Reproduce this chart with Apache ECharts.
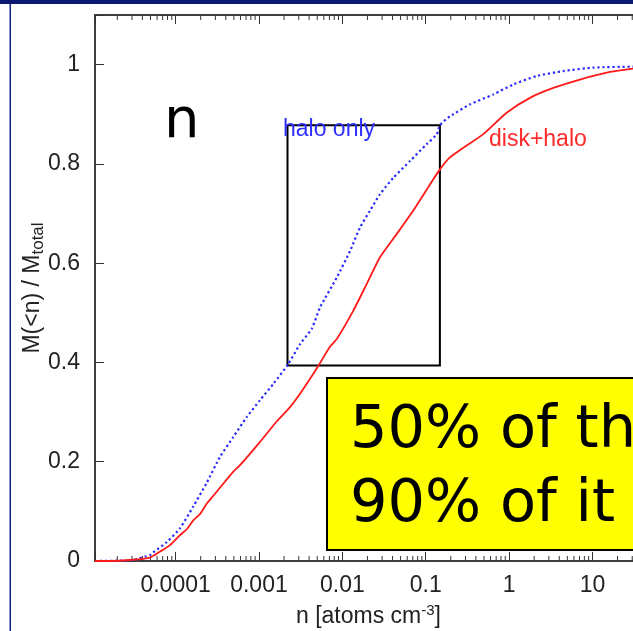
<!DOCTYPE html>
<html>
<head>
<meta charset="utf-8">
<script src="https://cdn.jsdelivr.net/npm/echarts@6/dist/echarts.min.js"></script>
<style>
html,body{margin:0;padding:0;background:#fff;}
#chart{width:633px;height:631px;}
</style>
</head>
<body>
<div id="chart"></div>
<script>
// ---- data ----
const X_MIN = 1.08e-5;
const X_MAX = 39.3;
const Y_MIN = 0;
const Y_MAX = 1.1;

const diskHaloN = [1.08e-5, 1.64e-5, 2.84e-5, 4.94e-5, 6.52e-5, 8.59e-5, 1.13e-4, 1.36e-4, 1.63e-4, 1.97e-4,
  2.37e-4, 2.82e-4, 3.42e-4, 4.93e-4, 5.93e-4, 1.03e-3, 1.63e-3, 2.36e-3, 3.11e-3, 4.10e-3,
  5.41e-3, 7.13e-3, 8.57e-3, 1.36e-2, 1.96e-2, 2.83e-2, 4.50e-2, 7.10e-2, 0.113, 0.148,
  0.195, 0.258, 0.491, 0.935, 1.78, 3.39, 7.08, 14.8, 30.6, 39.3];
const diskHaloM = [0, 0, 0.002, 0.007, 0.019, 0.032, 0.052, 0.064, 0.082, 0.095,
  0.116, 0.131, 0.148, 0.18, 0.193, 0.24, 0.281, 0.31, 0.337, 0.367,
  0.399, 0.432, 0.447, 0.505, 0.558, 0.612, 0.659, 0.706, 0.759, 0.789,
  0.813, 0.828, 0.86, 0.903, 0.933, 0.953, 0.97, 0.984, 0.992, 0.994];

const haloOnlyN = [1.08e-5, 2.84e-5, 3.12e-5, 4.94e-5, 5.37e-5, 7.83e-5, 1.13e-4, 1.63e-4, 2.37e-4, 3.42e-4,
  4.93e-4, 7.14e-4, 1.03e-3, 1.49e-3, 2.25e-3, 3.11e-3, 4.30e-3, 5.41e-3, 8.57e-3, 1.24e-2,
  1.63e-2, 2.15e-2, 2.83e-2, 4.09e-2, 6.49e-2, 0.103, 0.136, 0.148, 0.195, 0.214,
  0.340, 0.647, 1.12, 2.14, 4.47, 10.2, 30.6, 39.3];
const haloOnlyM = [0, 0.001, 0.002, 0.012, 0.017, 0.038, 0.066, 0.11, 0.158, 0.21,
  0.25, 0.29, 0.324, 0.357, 0.397, 0.437, 0.468, 0.511, 0.571, 0.625,
  0.672, 0.706, 0.739, 0.772, 0.806, 0.84, 0.86, 0.878, 0.896, 0.9,
  0.92, 0.94, 0.96, 0.977, 0.987, 0.994, 0.996, 0.997];

const xTickLabels = ['0.0001', '0.001', '0.01', '0.1', '1', '10'];
const yTickLabels = ['0', '0.2', '0.4', '0.6', '0.8', '1'];
const minorMultipliers = [2, 3, 4, 5, 6, 7, 8, 9];
const minorDecades = [-5, -4, -3, -2, -1, 0, 1];

const boxN = [0.0022, 0.148];
const boxM = [0.394, 0.878];

// ---- helpers ----
const minorTicks = [];
minorDecades.forEach(d => minorMultipliers.forEach(m => {
  const v = m * Math.pow(10, d);
  if (v > X_MIN && v < X_MAX) minorTicks.push([v, 0]);
}));
const zip = (a, b) => a.map((v, i) => [v, b[i]]);
const isDecade = v => Math.abs(Math.log10(v) - Math.round(Math.log10(v))) < 1e-6;
const FONT = 'Liberation Sans';
const AX = '#333';

const chart = echarts.init(document.getElementById('chart'), null, {renderer: 'canvas'});
const option = {
  animation: false,
  backgroundColor: '#fff',
  grid: {left: 95, top: 15, bottom: 70, right: -9, show: true, borderColor: AX, borderWidth: 1.5,
    containLabel: false, outerBoundsMode: 'none'},
  xAxis: [{
    type: 'log', logBase: 10, min: X_MIN, max: X_MAX, position: 'bottom',
    axisLine: {show: true, lineStyle: {color: AX, width: 1.5}},
    axisTick: {show: true, inside: true, length: 9, lineStyle: {color: AX, width: 1}},
    splitLine: {show: false},
    axisLabel: {
      margin: 13, color: '#222', fontFamily: FONT, fontSize: 23,
      formatter: v => {
        if (!isDecade(v)) return '';
        const s = xTickLabels.find(t => Math.abs(Math.log10(parseFloat(t)) - Math.log10(v)) < 1e-6);
        return s || '';
      }
    },
    name: '{a|n [atoms cm}{s|-3}{a|]}',
    nameLocation: 'middle', nameGap: 42,
    nameTextStyle: {
      rich: {
        a: {fontFamily: FONT, fontSize: 23, color: '#222'},
        s: {fontFamily: FONT, fontSize: 15, color: '#222', padding: [0, 0, 12, 0]}
      }
    }
  }, {
    type: 'log', logBase: 10, min: X_MIN, max: X_MAX, position: 'top',
    axisLine: {show: true, lineStyle: {color: AX, width: 1.5}},
    axisTick: {show: true, inside: true, length: 9, lineStyle: {color: AX, width: 1}},
    splitLine: {show: false},
    axisLabel: {show: false}
  }],
  yAxis: {
    type: 'value', min: Y_MIN, max: Y_MAX, interval: 0.2,
    axisLine: {show: true, lineStyle: {color: AX, width: 1.5}},
    axisTick: {show: true, inside: true, length: 9, lineStyle: {color: AX, width: 1}},
    splitLine: {show: false},
    axisLabel: {
      margin: 15, color: '#222', fontFamily: FONT, fontSize: 23,
      formatter: v => {
        const i = Math.round(v / 0.2);
        return (Math.abs(v - i * 0.2) < 1e-6 && i < yTickLabels.length) ? yTickLabels[i] : '';
      }
    },
    name: '{a|M(<n) / M}{b|total}',
    nameLocation: 'middle', nameGap: 48, nameRotate: 90, nameMoveOverlap: false,
    nameTextStyle: {
      rich: {
        a: {fontFamily: FONT, fontSize: 23, color: '#222'},
        b: {fontFamily: FONT, fontSize: 17, color: '#222', padding: [12, 0, 0, 0]}
      }
    }
  },
  series: [{
    name: 'minor ticks', type: 'custom', xAxisIndex: 0, yAxisIndex: 0, silent: true, clip: false,
    data: minorTicks,
    renderItem: (params, api) => {
      const x = api.value(0);
      const b = api.coord([x, Y_MIN]);
      const t = api.coord([x, Y_MAX]);
      return {type: 'group', children: [
        {type: 'line', shape: {x1: b[0], y1: b[1], x2: b[0], y2: b[1] - 5}, style: {stroke: AX, lineWidth: 1}},
        {type: 'line', shape: {x1: t[0], y1: t[1], x2: t[0], y2: t[1] + 5}, style: {stroke: AX, lineWidth: 1}}
      ]};
    }
  }, {
    name: 'halo only', type: 'line', data: zip(haloOnlyN, haloOnlyM), showSymbol: false, smooth: 0.2,
    lineStyle: {color: '#2a2aff', width: 2.2, type: [2.2, 2.8]}, z: 3
  }, {
    name: 'disk+halo', type: 'line', data: zip(diskHaloN, diskHaloM), showSymbol: false, smooth: 0.2,
    lineStyle: {color: '#ff1a1a', width: 1.8}, z: 3,
    markArea: {
      silent: true,
      itemStyle: {color: 'rgba(0,0,0,0)', borderColor: '#000', borderWidth: 2},
      data: [[{coord: [boxN[0], boxM[0]]}, {coord: [boxN[1], boxM[1]]}]]
    }
  }],
  graphic: [
    {type: 'rect', shape: {x: 0, y: 0, width: 633, height: 4}, style: {fill: '#0a1870'}, z: 100},
    {type: 'rect', shape: {x: 9.5, y: 4, width: 1.5, height: 627}, style: {fill: '#13228c'}, z: 100},
    {type: 'text', left: 283, top: 118, style: {text: 'halo only', fill: '#3030ff', font: '23px "Liberation Sans"'}, z: 50},
    {type: 'text', left: 489, top: 128, style: {text: 'disk+halo', fill: '#ff2a2a', font: '23px "Liberation Sans"'}, z: 50},
    {type: 'text', left: 164, top: 94, style: {text: 'n', fill: '#000', font: '56px "DejaVu Sans"'}, z: 50},
    {type: 'rect', shape: {x: 327, y: 378, width: 400, height: 172}, style: {fill: '#ffff00', stroke: '#000', lineWidth: 2}, z: 60},
    {type: 'text', left: 350, top: 402, style: {text: '50% of the', fill: '#000', font: '59px "DejaVu Sans"'}, z: 61},
    {type: 'text', left: 350, top: 476, style: {text: '90% of it', fill: '#000', font: '59px "DejaVu Sans"'}, z: 61}
  ]
};
chart.setOption(option);
</script>
</body>
</html>
